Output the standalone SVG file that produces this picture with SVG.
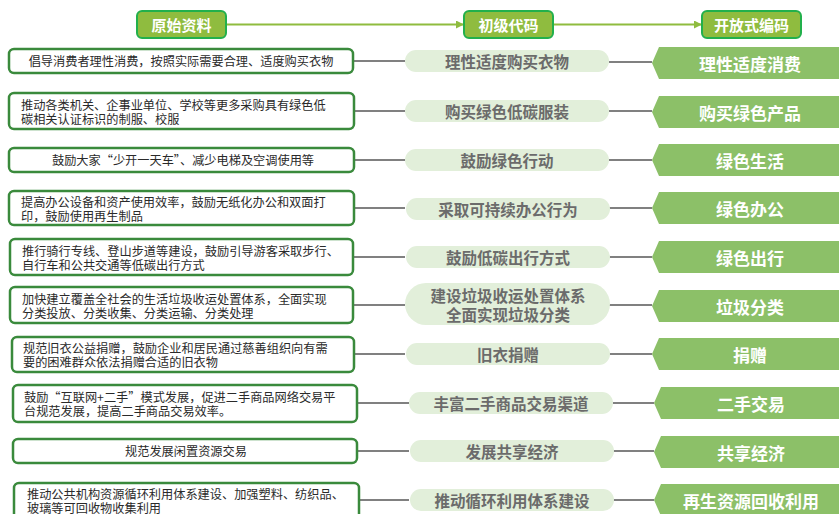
<svg xmlns="http://www.w3.org/2000/svg" width="839" height="514" viewBox="0 0 839 514">
<style>
text{font-family:"Noto Sans CJK SC","Noto Sans",sans-serif;dominant-baseline:central}
.hd rect{fill:#8fbc3f;stroke:#22b04c;stroke-width:2}
.hd text{fill:#fff;font-size:15px;font-weight:bold;text-anchor:middle}
.src rect{fill:#fff;stroke:#3a8a3c;stroke-width:2.5}
.src text{fill:#2a2a2a;font-size:12.2px}
.src text.c{text-anchor:middle}
.mid rect{fill:#e2efda}
.mid text{fill:#6b6b6b;font-size:15.5px;font-weight:bold;text-anchor:middle}
.opn polygon{fill:#8cc068}
.opn text{fill:#fff;font-size:17px;font-weight:bold;text-anchor:middle}
.conn line{stroke:#808080;stroke-width:2}
.hconn line{stroke:#8fbc3f;stroke-width:2}
</style>
<defs>
<marker id="ah" markerWidth="8" markerHeight="8" refX="7" refY="4" orient="auto" markerUnits="userSpaceOnUse">
<path d="M0,0 L8,4 L0,8 Z" fill="#8fbc3f"/>
</marker>
</defs>
<rect width="839" height="514" fill="#fff"/>

<g id="header-connectors" class="hconn">
<line x1="226" y1="24.5" x2="463" y2="24.5" marker-end="url(#ah)"/>
<line x1="553" y1="24.5" x2="701" y2="24.5" marker-end="url(#ah)"/>
</g>

<g id="h1" class="hd"><rect x="137" y="11" width="89" height="27" rx="5"/><text x="181.5" y="24.5">原始资料</text></g>
<g id="h2" class="hd"><rect x="464" y="11" width="89" height="27" rx="5"/><text x="508.5" y="24.5">初级代码</text></g>
<g id="h3" class="hd"><rect x="702" y="11" width="99" height="27" rx="5"/><text x="751.5" y="24.5">开放式编码</text></g>

<g id="connectors" class="conn">
<line x1="353" y1="61" x2="405" y2="61"/><line x1="609" y1="62" x2="652" y2="62"/>
<line x1="354" y1="111" x2="405" y2="111"/><line x1="609" y1="111" x2="652" y2="111"/>
<line x1="354" y1="160" x2="405" y2="160"/><line x1="609" y1="160" x2="652" y2="160"/>
<line x1="354" y1="208" x2="405" y2="208"/><line x1="609" y1="208" x2="652" y2="208"/>
<line x1="353" y1="257" x2="405" y2="257"/><line x1="609" y1="257" x2="652" y2="257"/>
<line x1="353" y1="305" x2="405" y2="305"/><line x1="609" y1="305" x2="652" y2="305"/>
<line x1="354" y1="354" x2="405" y2="354"/><line x1="609" y1="354" x2="652" y2="354"/>
<line x1="357" y1="403" x2="409" y2="403"/><line x1="613" y1="403" x2="654" y2="403"/>
<line x1="357" y1="451" x2="409" y2="451"/><line x1="613" y1="451" x2="654" y2="451"/>
<line x1="359" y1="500" x2="409" y2="500"/><line x1="613" y1="500" x2="654" y2="500"/>
</g>

<g id="s1" class="src"><rect x="9" y="49" width="344" height="24" rx="5"/><text class="c" x="181" y="61">倡导消费者理性消费，按照实际需要合理、适度购买衣物</text></g>
<g id="s2" class="src"><rect x="9" y="93" width="345" height="36" rx="5"/><text x="21" y="105">推动各类机关、企事业单位、学校等更多采购具有绿色低</text><text x="21" y="119">碳相关认证标识的制服、校服</text></g>
<g id="s3" class="src"><rect x="9" y="148" width="345" height="24" rx="5"/><text class="c" x="183" y="160">鼓励大家“少开一天车”、减少电梯及空调使用等</text></g>
<g id="s4" class="src"><rect x="9" y="191" width="345" height="34" rx="5"/><text x="21" y="201.5">提高办公设备和资产使用效率，鼓励无纸化办公和双面打</text><text x="21" y="215.5">印，鼓励使用再生制品</text></g>
<g id="s5" class="src"><rect x="10" y="239" width="343" height="36" rx="5"/><text x="22" y="250.5">推行骑行专线、登山步道等建设，鼓励引导游客采取步行、</text><text x="22" y="264.5">自行车和公共交通等低碳出行方式</text></g>
<g id="s6" class="src"><rect x="10" y="287" width="343" height="36" rx="5"/><text x="22" y="298.5">加快建立覆盖全社会的生活垃圾收运处置体系，全面实现</text><text x="22" y="312.5">分类投放、分类收集、分类运输、分类处理</text></g>
<g id="s7" class="src"><rect x="12" y="337" width="342" height="35" rx="5"/><text x="23" y="347.5">规范旧衣公益捐赠，鼓励企业和居民通过慈善组织向有需</text><text x="23" y="361.5">要的困难群众依法捐赠合适的旧衣物</text></g>
<g id="s8" class="src"><rect x="13" y="385" width="344" height="37" rx="5"/><text x="24" y="396.5">鼓励“互联网+二手”模式发展，促进二手商品网络交易平</text><text x="24" y="410.5">台规范发展，提高二手商品交易效率。</text></g>
<g id="s9" class="src"><rect x="13" y="439" width="344" height="24" rx="5"/><text class="c" x="186" y="451">规范发展闲置资源交易</text></g>
<g id="s10" class="src"><rect x="14" y="483" width="345" height="37" rx="5"/><text x="27" y="494">推动公共机构资源循环利用体系建设、加强塑料、纺织品、</text><text x="27" y="508">玻璃等可回收物收集利用</text></g>

<g id="m1" class="mid"><rect x="405" y="50" width="204" height="22" rx="11"/><text x="507" y="61">理性适度购买衣物</text></g>
<g id="m2" class="mid"><rect x="405" y="100" width="204" height="22" rx="11"/><text x="507" y="111">购买绿色低碳服装</text></g>
<g id="m3" class="mid"><rect x="405" y="149" width="204" height="22" rx="11"/><text x="507" y="160">鼓励绿色行动</text></g>
<g id="m4" class="mid"><rect x="406" y="198" width="204" height="22" rx="11"/><text x="508" y="209">采取可持续办公行为</text></g>
<g id="m5" class="mid"><rect x="406" y="246" width="204" height="22" rx="11"/><text x="508" y="257">鼓励低碳出行方式</text></g>
<g id="m6" class="mid"><rect x="405" y="283" width="205" height="42" rx="21"/><text x="508" y="295">建设垃圾收运处置体系</text><text x="508" y="314">全面实现垃圾分类</text></g>
<g id="m7" class="mid"><rect x="406" y="343" width="204" height="22" rx="11"/><text x="508" y="354">旧衣捐赠</text></g>
<g id="m8" class="mid"><rect x="409" y="392" width="204" height="22" rx="11"/><text x="511" y="403">丰富二手商品交易渠道</text></g>
<g id="m9" class="mid"><rect x="410" y="440" width="204" height="22" rx="11"/><text x="512" y="451">发展共享经济</text></g>
<g id="m10" class="mid"><rect x="410" y="489" width="204" height="22" rx="11"/><text x="512" y="500">推动循环利用体系建设</text></g>

<g id="o1" class="opn"><polygon points="652,63 659,47 840,47 840,79 659,79"/><text x="750" y="63">理性适度消费</text></g>
<g id="o2" class="opn"><polygon points="652,112 659,96 840,96 840,128 659,128"/><text x="750" y="112">购买绿色产品</text></g>
<g id="o3" class="opn"><polygon points="652,160 659,144 840,144 840,176 659,176"/><text x="750" y="160">绿色生活</text></g>
<g id="o4" class="opn"><polygon points="652,208 659,192 840,192 840,224 659,224"/><text x="750" y="208">绿色办公</text></g>
<g id="o5" class="opn"><polygon points="652,257 659,241 840,241 840,273 659,273"/><text x="750" y="257">绿色出行</text></g>
<g id="o6" class="opn"><polygon points="652,306 659,290 840,290 840,322 659,322"/><text x="750" y="306">垃圾分类</text></g>
<g id="o7" class="opn"><polygon points="652,354 659,338 840,338 840,370 659,370"/><text x="750" y="354">捐赠</text></g>
<g id="o8" class="opn"><polygon points="654,403 661,387 840,387 840,419 661,419"/><text x="751" y="403">二手交易</text></g>
<g id="o9" class="opn"><polygon points="654,452 661,436 840,436 840,468 661,468"/><text x="751" y="452">共享经济</text></g>
<g id="o10" class="opn"><polygon points="654,500 661,484 840,484 840,516 661,516"/><text x="751" y="500">再生资源回收利用</text></g>
</svg>
